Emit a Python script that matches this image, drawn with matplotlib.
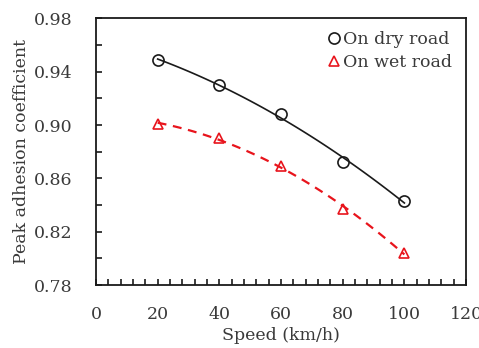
import numpy as np
import matplotlib
matplotlib.use("Agg")
import matplotlib.pyplot as plt
from matplotlib.ticker import MultipleLocator

# speeds and measured peak adhesion coefficients
speed = [20, 40, 60, 80, 100]
dry_road = [0.949, 0.930, 0.908, 0.872, 0.843]
wet_road = [0.901, 0.890, 0.869, 0.837, 0.804]
y_ticks = [0.78, 0.82, 0.86, 0.90, 0.94, 0.98]

plt.rcParams['font.family'] = ['DejaVu Serif']
txt_color = '#3a3a3a'

fig = plt.figure(figsize=(4.79, 3.48), dpi=100)
ax = fig.add_axes([0.2004, 0.181, 0.7726, 0.766])

# quadratic trend lines through the measured points
xs = np.linspace(speed[0], speed[-1], 100)
dry_fit = np.poly1d(np.polyfit(speed, dry_road, 2))
wet_fit = np.poly1d(np.polyfit(speed, wet_road, 2))
ax.plot(xs, dry_fit(xs), color='#1a1a1a', lw=1.2)
ax.plot(xs, wet_fit(xs), color='#e8141c', lw=1.6, ls=(0, (4, 3)))

ax.plot(speed, dry_road, 'o', ms=8, mfc='none', mec='#1a1a1a', mew=1.2,
        label='On dry road')
ax.plot(speed, wet_road, '^', ms=7.5, mfc='none', mec='#e8141c', mew=1.2,
        label='On wet road')

ax.set_xlim(0, 120)
ax.set_ylim(0.78, 0.98)
ax.xaxis.set_major_locator(MultipleLocator(20))
ax.xaxis.set_minor_locator(MultipleLocator(4))
ax.set_yticks(y_ticks)
ax.yaxis.set_minor_locator(MultipleLocator(0.02))
ax.yaxis.set_major_formatter(plt.FuncFormatter(lambda v, p: f'{v:.2f}'))
ax.tick_params(which='both', direction='in', length=4, width=1.2,
               labelsize=12.5, labelcolor=txt_color, color='#1a1a1a')
ax.tick_params(axis='x', pad=15)
ax.tick_params(axis='y', pad=17)
for s in ax.spines.values():
    s.set_linewidth(1.3)
    s.set_color('#1a1a1a')

ax.set_xlabel('Speed (km/h)', fontsize=12.5, color=txt_color, labelpad=3)
ax.set_ylabel('Peak adhesion coefficient', fontsize=12.5, color=txt_color, labelpad=3)

leg = ax.legend(loc='upper right', frameon=False, fontsize=12.5, handletextpad=0.05,
                handlelength=1.0, borderaxespad=0.5, labelspacing=0.35,
                borderpad=0.2, bbox_to_anchor=(0.995, 1.0))
for t in leg.get_texts():
    t.set_color(txt_color)

fig.savefig('out.png', dpi=100)
